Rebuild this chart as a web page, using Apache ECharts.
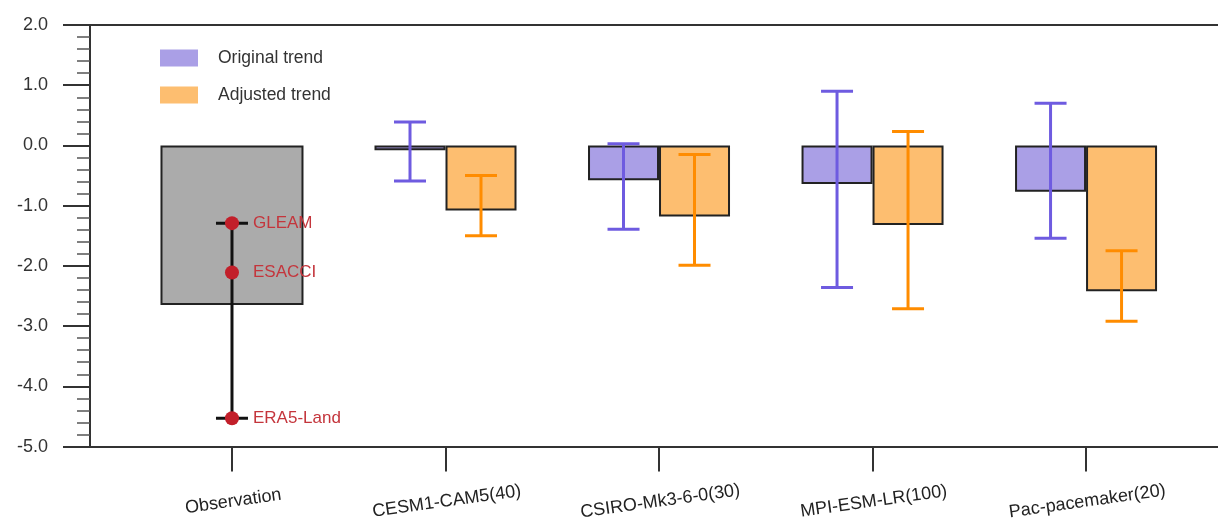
<!DOCTYPE html>
<html>
<head>
<meta charset="utf-8">
<script src="https://cdn.jsdelivr.net/npm/echarts@6/dist/echarts.min.js"></script>
<style>
  html, body { margin: 0; padding: 0; background: #fff; }
  #main { width: 1218px; height: 522px; }
</style>
</head>
<body>
<div id="main"></div>
<script>
// categories (x positions 0..4)
const categories = ['Observation', 'CESM1-CAM5(40)', 'CSIRO-Mk3-6-0(30)', 'MPI-ESM-LR(100)', 'Pac-pacemaker(20)'];

// observation
const obsTrend = -2.65;
const obsNames = ['GLEAM', 'ESACCI', 'ERA5-Land'];
const obsValues = [-1.29, -2.11, -4.53];

// model trends (categories 1..4)
const modelIdx = [1, 2, 3, 4];
const originalTrend = [-0.08, -0.58, -0.64, -0.77];
const originalLow   = [-0.59, -1.39, -2.36, -1.54];
const originalHigh  = [0.39, 0.03, 0.90, 0.70];
const adjustedTrend = [-1.08, -1.18, -1.32, -2.42];
const adjustedLow   = [-1.50, -1.99, -2.71, -2.92];
const adjustedHigh  = [-0.50, -0.15, 0.23, -1.75];

const yTicks = [-5, -4, -3, -2, -1, 0, 1, 2];

const FONT = 'Liberation Sans, Arial, sans-serif';
const BAR_W = 71;
const CAP_W = 32;
const PURPLE = '#aa9fe6';
const ORANGE = '#fdbe70';
const PURPLE_ERR = '#6e5be0';
const ORANGE_ERR = '#ff8c00';

function errorBar(offset, color) {
  return function (params, api) {
    const x = api.value(0);
    const lo = api.coord([x, api.value(1)]);
    const hi = api.coord([x, api.value(2)]);
    const cx = lo[0] + offset;
    const h = CAP_W / 2;
    const style = { stroke: color, lineWidth: 3 };
    return {
      type: 'group',
      children: [
        { type: 'line', shape: { x1: cx, y1: lo[1], x2: cx, y2: hi[1] }, style: style },
        { type: 'line', shape: { x1: cx - h, y1: lo[1], x2: cx + h, y2: lo[1] }, style: style },
        { type: 'line', shape: { x1: cx - h, y1: hi[1], x2: cx + h, y2: hi[1] }, style: style }
      ]
    };
  };
}

const chart = echarts.init(document.getElementById('main'));

const axisLineStyle = { color: '#333', width: 2 };

const option = {
  animation: false,
  textStyle: { fontFamily: FONT },
  grid: { left: 90, right: 0, top: 25, bottom: 74 },
  legend: {
    orient: 'vertical',
    left: 155,
    top: 44,
    itemWidth: 38,
    itemHeight: 17,
    itemGap: 19,
    icon: 'rect',
    itemStyle: { borderWidth: 0 },
    textStyle: { fontSize: 17.5, color: '#333', fontFamily: FONT, padding: [0, 0, 0, 15] },
    data: ['Original trend', 'Adjusted trend']
  },
  xAxis: [
    {
      type: 'value',
      min: -0.665,
      max: 4.618,
      position: 'bottom',
      axisLine: { show: true, onZero: false, lineStyle: axisLineStyle },
      axisTick: { show: true, customValues: [0, 1, 2, 3, 4], length: 25, lineStyle: axisLineStyle },
      axisLabel: {
        customValues: [0, 1, 2, 3, 4],
        formatter: function (v) { return categories[Math.round(v)]; },
        rotate: 8,
        align: 'center',
        verticalAlign: 'top',
        margin: 46,
        fontSize: 18,
        color: '#222',
        fontFamily: FONT
      },
      splitLine: { show: false }
    },
    {
      type: 'value',
      min: -0.665,
      max: 4.618,
      position: 'top',
      axisLine: { show: true, onZero: false, lineStyle: axisLineStyle },
      axisTick: { show: false },
      axisLabel: { show: false },
      splitLine: { show: false }
    }
  ],
  yAxis: {
    type: 'value',
    min: yTicks[0],
    max: yTicks[yTicks.length - 1],
    interval: 1,
    axisLine: { show: true, onZero: false, lineStyle: axisLineStyle },
    axisTick: { show: true, length: 27, lineStyle: axisLineStyle },
    minorTick: { show: true, splitNumber: 5, length: 13, lineStyle: { color: '#555', width: 1.5 } },
    axisLabel: {
      formatter: function (v) { return v.toFixed(1); },
      fontSize: 18,
      color: '#333',
      margin: 42,
      fontFamily: FONT
    },
    splitLine: { show: false }
  },
  series: [
    {
      name: 'Observation',
      type: 'bar',
      xAxisIndex: 1,
      barWidth: 143,
      itemStyle: { color: '#ababab', borderColor: '#222', borderWidth: 2 },
      data: [[0, obsTrend]],
      z: 2
    },
    {
      name: 'Original trend',
      type: 'bar',
      barWidth: BAR_W,
      barGap: '0%',
      itemStyle: { color: PURPLE, borderColor: '#222', borderWidth: 2 },
      data: modelIdx.map((x, i) => [x, originalTrend[i]]),
      z: 2
    },
    {
      name: 'Adjusted trend',
      type: 'bar',
      barWidth: BAR_W,
      barGap: '0%',
      itemStyle: { color: ORANGE, borderColor: '#222', borderWidth: 2 },
      data: modelIdx.map((x, i) => [x, adjustedTrend[i]]),
      z: 2
    },
    {
      name: 'origErr',
      type: 'custom',
      renderItem: errorBar(-BAR_W / 2, PURPLE_ERR),
      data: modelIdx.map((x, i) => [x, originalLow[i], originalHigh[i]]),
      z: 5
    },
    {
      name: 'adjErr',
      type: 'custom',
      renderItem: errorBar(BAR_W / 2, ORANGE_ERR),
      data: modelIdx.map((x, i) => [x, adjustedLow[i], adjustedHigh[i]]),
      z: 5
    },
    {
      name: 'obsRange',
      type: 'custom',
      xAxisIndex: 1,
      renderItem: errorBar(0, '#111'),
      data: [[0, Math.min(...obsValues), Math.max(...obsValues)]],
      z: 5
    },
    {
      name: 'obsPoints',
      type: 'scatter',
      xAxisIndex: 1,
      symbolSize: 14,
      itemStyle: { color: '#c21f2a', opacity: 1 },
      label: {
        show: true,
        position: 'right',
        distance: 14,
        formatter: function (p) { return p.name; },
        color: '#c4353c',
        fontSize: 17,
        fontFamily: FONT
      },
      data: obsNames.map((n, i) => ({ name: n, value: [0, obsValues[i]] })),
      z: 6
    }
  ]
};

chart.setOption(option);
</script>
</body>
</html>
